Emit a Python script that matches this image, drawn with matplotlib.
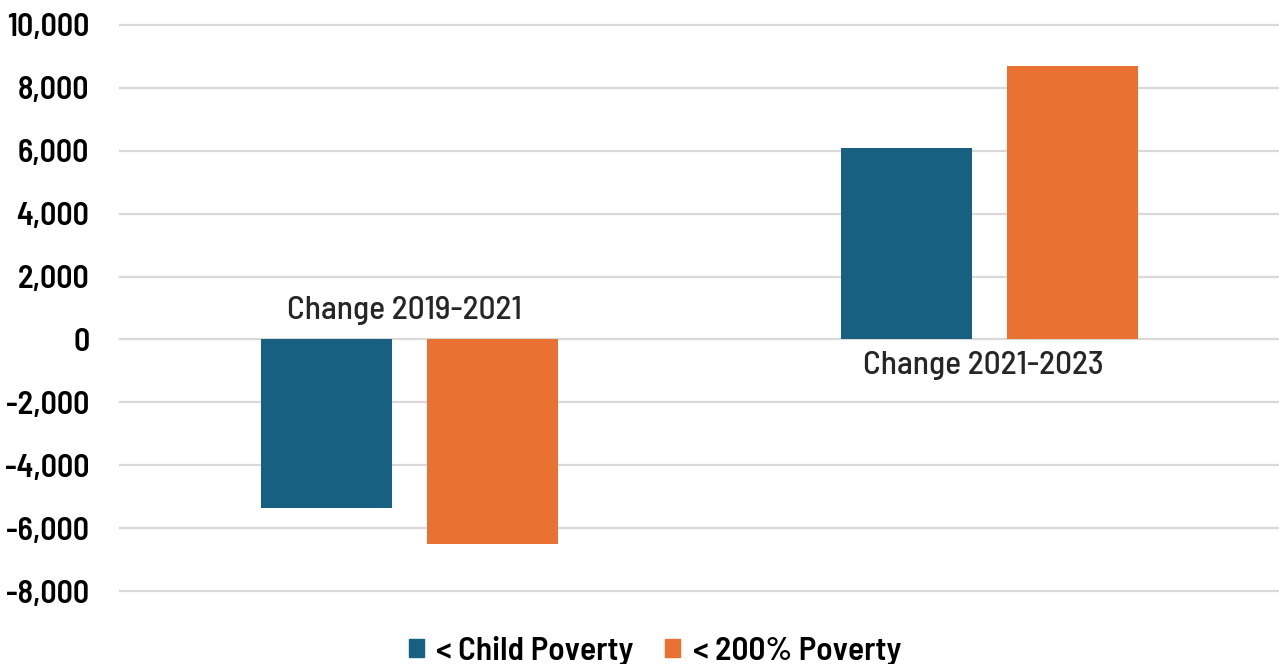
import numpy as np
import matplotlib.pyplot as plt
from matplotlib.patches import Patch

categories = ['Change 2019-2021', 'Change 2021-2023']
series_names = ['< Child Poverty', '< 200% Poverty']
child_poverty = [-5350, 6100]
poverty_200 = [-6500, 8700]
y_ticks = [-8000, -6000, -4000, -2000, 0, 2000, 4000, 6000, 8000, 10000]

blue = '#176082'
orange = '#E97132'
grid_col = '#D9D9D9'
text_col = '#262626'

plt.rcParams['font.family'] = ['Barlow Semi Condensed', 'DejaVu Sans']

fig = plt.figure(figsize=(12.79, 6.64), dpi=100)
ax = fig.add_axes([120 / 1279, 1 - 591 / 664, 1159 / 1279, (591 - 25) / 664])

x = np.arange(len(categories))
width = 0.226
offset = 0.143

ax.bar(x - offset, child_poverty, width, color=blue, zorder=3)
ax.bar(x + offset, poverty_200, width, color=orange, zorder=3)

ax.set_xlim(-0.5, len(categories) - 0.5)
ax.set_ylim(min(y_ticks), max(y_ticks))
ax.set_yticks(y_ticks)
ax.set_yticklabels([f'{v:,}' for v in y_ticks], fontsize=23, fontweight='semibold', color='black')
ax.tick_params(axis='y', length=0, pad=22)
ax.set_xticks([])
ax.yaxis.grid(True, color=grid_col, linewidth=1.6, zorder=0)
for gl in ax.get_ygridlines():
    gl.set_clip_on(False)

for spine in ax.spines.values():
    spine.set_visible(False)

# category labels sit beside the zero line, opposite to the bars
for i, cat in enumerate(categories):
    going_down = child_poverty[i] < 0
    dy = 21 if going_down else -19
    ax.annotate(cat, xy=(x[i], 0), xytext=(-4, dy), textcoords='offset points',
                ha='center', va='center', fontsize=24, fontweight='medium', color=text_col)

handles = [Patch(facecolor=blue, edgecolor=blue), Patch(facecolor=orange, edgecolor=orange)]
fig.legend(handles, series_names, loc='center', bbox_to_anchor=(655 / 1279, 13 / 664),
           ncol=2, frameon=False, handlelength=0.45, handleheight=0.45,
           handletextpad=0.38, columnspacing=0.95, prop={'weight': 'semibold', 'size': 24})

fig.savefig('out.png', dpi=100)
